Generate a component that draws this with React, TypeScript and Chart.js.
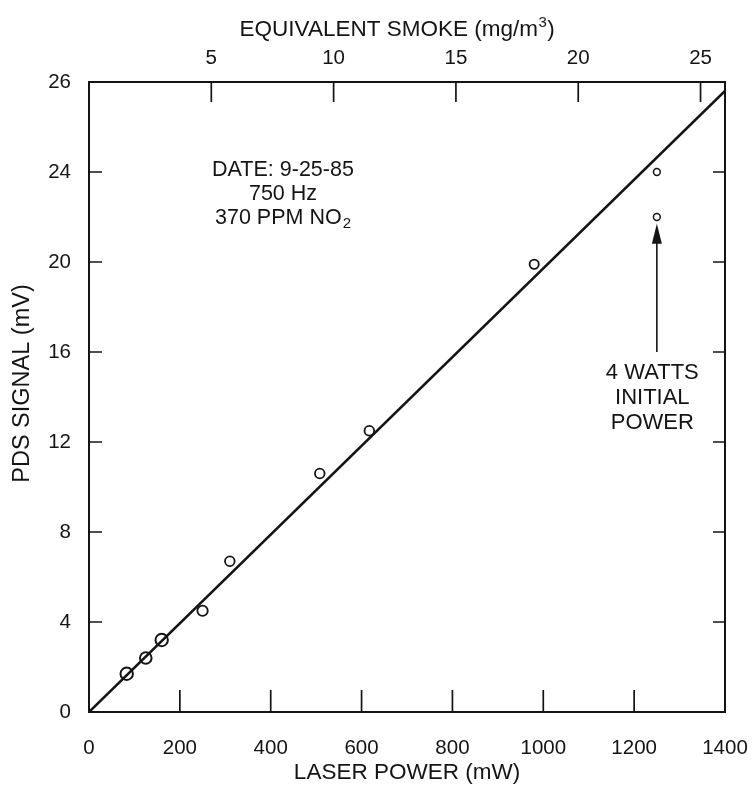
import { useEffect, useRef } from 'react';
import { Chart, registerables } from 'chart.js';

Chart.register(...registerables);

// Measured photothermal (PDS) signal vs. laser power
const laserPower = [83, 125, 160, 250, 310, 508, 617, 980, 1250, 1250]; // mW
const pdsSignal = [1.7, 2.4, 3.2, 4.5, 6.7, 10.6, 12.5, 19.9, 24.0, 22.0]; // mV

// Straight-line fit through the origin
const fitPower = [0, 1400];
const fitSignal = [0, 27.6];

// Axis ticks
const powerTicks = [0, 200, 400, 600, 800, 1000, 1200, 1400];
const smokeTicks = [5, 10, 15, 20, 25];
const signalTicks = [0, 4, 8, 12, 16, 20, 24, 28];
const signalTickLabels = ['0', '4', '8', '12', '16', '20', '24', '26'];

// Axis titles
const powerTitle = 'LASER POWER (mW)';
const signalTitle = 'PDS SIGNAL (mV)';
const smokeTitle = ['EQUIVALENT SMOKE (mg/m', '3', ')'];

// Run conditions and the call-out on the 4 W point
const conditionLines = ['DATE: 9-25-85', '750 Hz', '370 PPM NO'];
const conditionSubscript = '2';
const calloutLines = ['4 WATTS', 'INITIAL', 'POWER'];
const arrowPower = 1250;
const arrowFromSignal = 16.0;
const arrowToSignal = 21.7;

// Styling
const INK = '#141414';
const FONT = '"Liberation Sans", Arial, Helvetica, sans-serif';
const markerRadius = [6.2, 5.8, 6.2, 5.2, 4.8, 4.8, 4.8, 4.6, 3.4, 3.4];
const markerBorder = [2, 2, 2, 1.8, 1.8, 1.8, 1.8, 1.8, 1.5, 1.5];

const decorPlugin = {
  id: 'decor',
  afterDatasetsDraw(chart: any) {
    const { ctx, chartArea: a, scales } = chart;
    const x = scales.x;
    const x2 = scales.x2;
    const y = scales.y;
    ctx.save();

    // frame
    ctx.strokeStyle = INK;
    ctx.lineWidth = 2;
    ctx.strokeRect(a.left, a.top, a.right - a.left, a.bottom - a.top);

    // inward tick marks
    ctx.lineWidth = 1.7;
    ctx.beginPath();
    powerTicks.slice(1, -1).forEach((v) => {
      const px = x.getPixelForValue(v);
      ctx.moveTo(px, a.bottom);
      ctx.lineTo(px, a.bottom - 22);
    });
    smokeTicks.forEach((v) => {
      const px = x2.getPixelForValue(v);
      ctx.moveTo(px, a.top);
      ctx.lineTo(px, a.top + 20);
    });
    signalTicks.slice(1, -1).forEach((v) => {
      const py = y.getPixelForValue(v);
      ctx.moveTo(a.left, py);
      ctx.lineTo(a.left + 13, py);
      ctx.moveTo(a.right, py);
      ctx.lineTo(a.right - 12, py);
    });
    ctx.stroke();

    // arrow to the 4 W point
    const ax = x.getPixelForValue(arrowPower);
    const ay0 = y.getPixelForValue(arrowFromSignal);
    const ay1 = y.getPixelForValue(arrowToSignal);
    ctx.lineWidth = 1.6;
    ctx.beginPath();
    ctx.moveTo(ax, ay0);
    ctx.lineTo(ax, ay1 + 18);
    ctx.stroke();
    ctx.fillStyle = INK;
    ctx.beginPath();
    ctx.moveTo(ax, ay1);
    ctx.lineTo(ax - 5, ay1 + 20);
    ctx.lineTo(ax + 5, ay1 + 20);
    ctx.closePath();
    ctx.fill();

    ctx.textBaseline = 'middle';

    // top axis title with superscript
    {
      const big = `22.5px ${FONT}`;
      const small = `15px ${FONT}`;
      ctx.font = big;
      const w0 = ctx.measureText(smokeTitle[0]).width;
      const w2 = ctx.measureText(smokeTitle[2]).width;
      ctx.font = small;
      const w1 = ctx.measureText(smokeTitle[1]).width;
      const tcx = x2.getPixelForValue(12.6);
      const tcy = a.top - 52;
      let sx = tcx - (w0 + w1 + w2 + 1) / 2;
      ctx.textAlign = 'left';
      ctx.font = big;
      ctx.fillText(smokeTitle[0], sx, tcy);
      sx += w0 + 0.5;
      ctx.font = small;
      ctx.fillText(smokeTitle[1], sx, tcy - 7);
      sx += w1 + 0.5;
      ctx.font = big;
      ctx.fillText(smokeTitle[2], sx, tcy);
    }

    // left axis title
    {
      ctx.save();
      ctx.font = `23.5px ${FONT}`;
      ctx.textAlign = 'center';
      ctx.translate(23, y.getPixelForValue(14.6));
      ctx.rotate(-Math.PI / 2);
      ctx.fillText(signalTitle, 0, 0);
      ctx.restore();
    }

    // run conditions
    ctx.font = `21.5px ${FONT}`;
    ctx.textAlign = 'center';
    const cx = x.getPixelForValue(427);
    const cy = y.getPixelForValue(24.1);
    conditionLines.forEach((line, i) => {
      const ly = cy + i * 24;
      if (i === conditionLines.length - 1) {
        const w1 = ctx.measureText(line).width;
        ctx.font = `15px ${FONT}`;
        const w2 = ctx.measureText(conditionSubscript).width;
        const start = cx - (w1 + w2 + 1) / 2;
        ctx.textAlign = 'left';
        ctx.font = `21.5px ${FONT}`;
        ctx.fillText(line, start, ly);
        ctx.font = `15px ${FONT}`;
        ctx.fillText(conditionSubscript, start + w1 + 1, ly + 6);
        ctx.textAlign = 'center';
        ctx.font = `21.5px ${FONT}`;
      } else {
        ctx.fillText(line, cx, ly);
      }
    });

    // call-out
    const tx = x.getPixelForValue(1240);
    const ty = y.getPixelForValue(15.05);
    ctx.font = `22px ${FONT}`;
    calloutLines.forEach((line, i) => {
      ctx.fillText(line, tx, ty + i * 25);
    });

    ctx.restore();
  },
};

export default function App() {
  const canvasRef = useRef<HTMLCanvasElement | null>(null);

  useEffect(() => {
    if (!canvasRef.current) return;
    const tickFont = { family: FONT, size: 20.5 };
    const titleFont = { family: FONT, size: 22.5 };

    const chart = new Chart(canvasRef.current, {
      type: 'scatter',
      data: {
        datasets: [
          {
            type: 'line',
            data: fitPower.map((p, i) => ({ x: p, y: fitSignal[i] })),
            borderColor: INK,
            borderWidth: 2.6,
            pointRadius: 0,
            tension: 0,
            xAxisID: 'x',
            yAxisID: 'y',
          },
          {
            type: 'scatter',
            data: laserPower.map((p, i) => ({ x: p, y: pdsSignal[i] })),
            backgroundColor: '#ffffff',
            borderColor: INK,
            pointRadius: markerRadius,
            borderWidth: markerBorder,
            pointStyle: 'circle',
            xAxisID: 'x',
            yAxisID: 'y',
          },
        ],
      },
      options: {
        responsive: false,
        animation: false,
        layout: { padding: { left: 0, top: 0, right: 30, bottom: 0 } },
        plugins: { legend: { display: false }, tooltip: { enabled: false } },
        scales: {
          x: {
            type: 'linear',
            position: 'bottom',
            min: 0,
            max: 1400,
            afterBuildTicks: (s: any) => {
              s.ticks = powerTicks.map((v) => ({ value: v }));
            },
            afterFit: (s: any) => {
              s.height = 75;
              s.paddingLeft = 0;
              s.paddingRight = 0;
            },
            grid: { display: false },
            border: { display: false },
            ticks: {
              font: tickFont,
              color: INK,
              padding: 16,
              maxRotation: 0,
              autoSkip: false,
              callback: (v: any) => String(v),
            },
            title: {
              display: true,
              text: powerTitle,
              font: titleFont,
              color: INK,
              padding: { top: 0, bottom: 1 },
            },
          },
          x2: {
            type: 'linear',
            position: 'top',
            min: 0,
            max: 26,
            afterBuildTicks: (s: any) => {
              s.ticks = smokeTicks.map((v) => ({ value: v }));
            },
            afterFit: (s: any) => {
              s.height = 82;
              s.paddingLeft = 0;
              s.paddingRight = 0;
            },
            grid: { display: false },
            border: { display: false },
            ticks: {
              font: tickFont,
              color: INK,
              padding: 3,
              maxRotation: 0,
              autoSkip: false,
              callback: (v: any) => String(v),
            },
            title: { display: false },
          },
          y: {
            type: 'linear',
            position: 'left',
            min: 0,
            max: 28,
            afterBuildTicks: (s: any) => {
              s.ticks = signalTicks.map((v) => ({ value: v }));
            },
            afterFit: (s: any) => {
              s.width = 89;
              s.paddingTop = 0;
              s.paddingBottom = 0;
            },
            grid: { display: false },
            border: { display: false },
            ticks: {
              font: tickFont,
              color: INK,
              padding: 10,
              autoSkip: false,
              callback: (_v: any, i: number) => signalTickLabels[i],
            },
            title: { display: false },
          },
        },
      },
      plugins: [decorPlugin],
    } as any);

    return () => chart.destroy();
  }, []);

  return (
    <div style={{ position: 'absolute', left: 0, top: 0, width: 755, height: 787, background: '#fff' }}>
      <canvas ref={canvasRef} width={755} height={787} style={{ display: 'block' }} />
    </div>
  );
}
